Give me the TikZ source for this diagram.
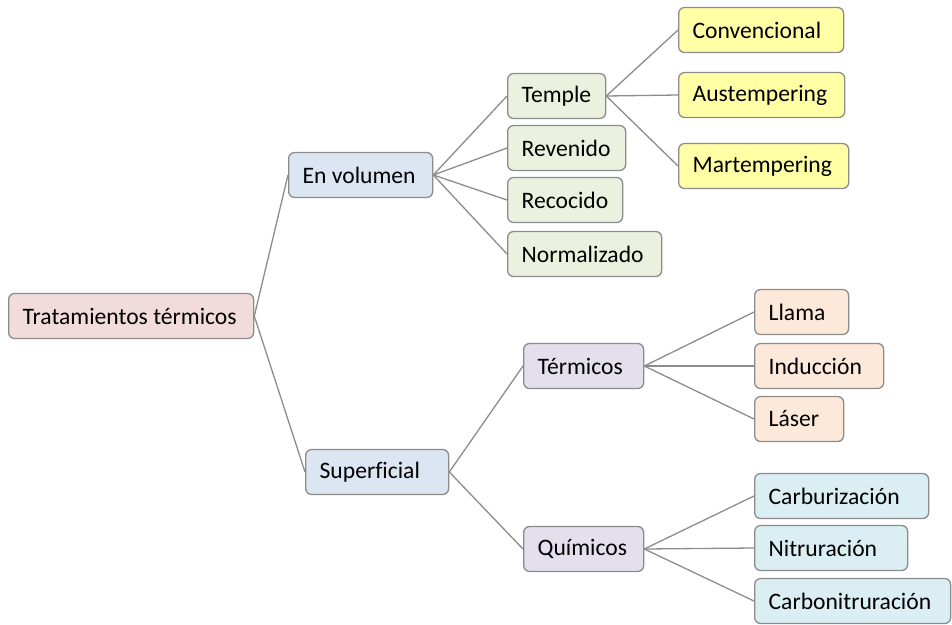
\documentclass[tikz,border=0pt]{standalone}
\usepackage{fontspec}
\setmainfont[Ligatures=NoCommon]{Carlito}
\definecolor{bordergray}{HTML}{8C8C8C}
\definecolor{linegray}{HTML}{8C8C8C}
\definecolor{cRoot}{HTML}{F2DCDB}
\definecolor{cBlue}{HTML}{DCE6F2}
\definecolor{cGreen}{HTML}{EBF1DE}
\definecolor{cYellow}{HTML}{FFFFA6}
\definecolor{cPurple}{HTML}{E4DFEC}
\definecolor{cOrange}{HTML}{FDE9D9}
\definecolor{cCyan}{HTML}{DAEEF3}
\newcommand{\lbox}[2]{\makebox[#1][l]{#2}}
\begin{document}
\begin{tikzpicture}[x=1pt,y=-1pt,
  bx/.style={draw=bordergray, fill=#1, rounded corners=6pt, line width=1.3pt,
    minimum height=45pt, inner xsep=14pt, inner ysep=0pt, anchor=west,
    font=\fontsize{23.6}{28}\selectfont},
  conn/.style={draw=linegray, line width=1.3pt}]
\path[use as bounding box] (0,0) rectangle (952,624);

\node[bx=cRoot] (root) at (8,316) {\lbox{217pt}{Tratamientos térmicos}};
\node[bx=cBlue] (vol) at (288,175) {\lbox{116pt}{En volumen}};
\node[bx=cBlue] (sup) at (305,472) {\lbox{115pt}{Superficial}};

\node[bx=cGreen] (temple) at (507,96) {\lbox{70pt}{Temple}};
\node[bx=cGreen] (reven) at (507,148) {\lbox{90pt}{Revenido}};
\node[bx=cGreen] (recoc) at (507,200) {\lbox{87pt}{Recocido}};
\node[bx=cGreen] (norm) at (507,254) {\lbox{126pt}{Normalizado}};

\node[bx=cYellow] (conv) at (678,30) {\lbox{137pt}{Convencional}};
\node[bx=cYellow] (aust) at (678,95) {\lbox{138pt}{Austempering}};
\node[bx=cYellow] (mart) at (678,166) {\lbox{142pt}{Martempering}};

\node[bx=cPurple] (term) at (523,366) {\lbox{92pt}{Térmicos}};
\node[bx=cPurple] (quim) at (523,549) {\lbox{92pt}{Químicos}};

\node[bx=cOrange] (llama) at (754,312) {\lbox{66pt}{Llama}};
\node[bx=cOrange] (induc) at (754,366) {\lbox{101pt}{Inducción}};
\node[bx=cOrange] (laser) at (754,419) {\lbox{61pt}{Láser}};

\node[bx=cCyan] (carb) at (754,496) {\lbox{146pt}{Carburización}};
\node[bx=cCyan] (nitr) at (754,548) {\lbox{125pt}{Nitruración}};
\node[bx=cCyan] (cnit) at (754,601) {\lbox{168pt}{Carbonitruración}};

\draw[conn] (root.east) -- (vol.west);
\draw[conn] (root.east) -- (sup.west);
\draw[conn] (vol.east) -- (temple.west);
\draw[conn] (vol.east) -- (reven.west);
\draw[conn] (vol.east) -- (recoc.west);
\draw[conn] (vol.east) -- (norm.west);
\draw[conn] (temple.east) -- (conv.west);
\draw[conn] (temple.east) -- (aust.west);
\draw[conn] (temple.east) -- (mart.west);
\draw[conn] (sup.east) -- (term.west);
\draw[conn] (sup.east) -- (quim.west);
\draw[conn] (term.east) -- (llama.west);
\draw[conn] (term.east) -- (induc.west);
\draw[conn] (term.east) -- (laser.west);
\draw[conn] (quim.east) -- (carb.west);
\draw[conn] (quim.east) -- (nitr.west);
\draw[conn] (quim.east) -- (cnit.west);
\end{tikzpicture}
\end{document}
